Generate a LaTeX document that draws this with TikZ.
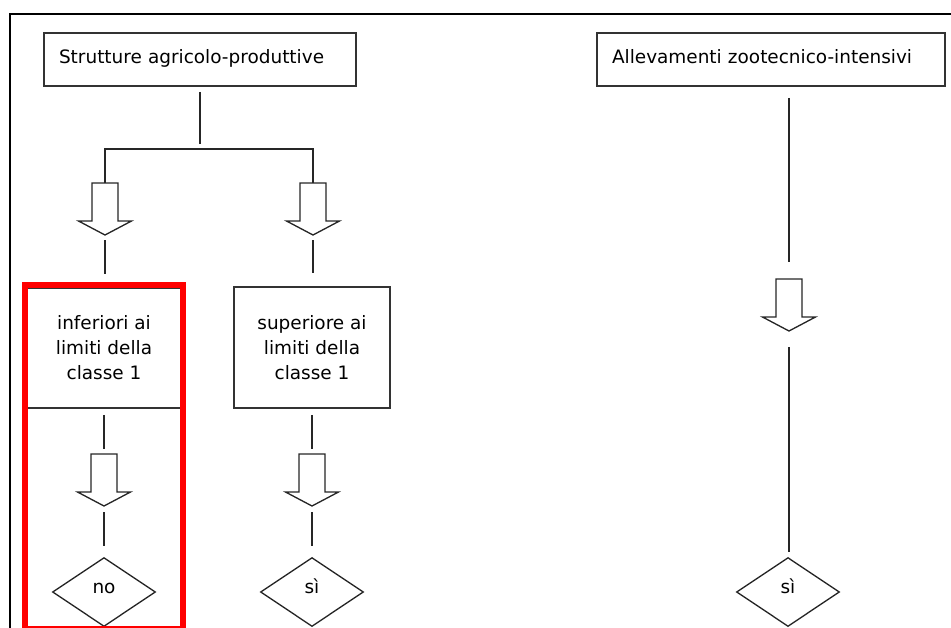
\documentclass[tikz,border=0pt]{standalone}
\usepackage{fontspec}
\setmainfont{DejaVu Sans}
\usepackage{tikz}
\usetikzlibrary{positioning,shapes.geometric}

\begin{document}
\begin{tikzpicture}[x=0.02cm,y=-0.02cm,
  font=\fontsize{10.5}{14.2}\selectfont,
  conn/.style={draw=black!85,line width=0.75pt},
  box/.style={draw=black!80,line width=1pt,rectangle,inner sep=0pt},
  choice/.style={draw=black!85,line width=0.75pt,diamond,inner sep=0pt,
    minimum width=2.06cm,minimum height=1.38cm,text height=0.2cm,text depth=0.16cm},
  blockarrow/.pic={
    \draw[black!85,line width=0.75pt,fill=white] (-13,0) -- (13,0) -- (13,38) -- (26.5,38)
      -- (0,52) -- (-26.5,38) -- (-13,38) -- cycle;
    \coordinate (-top) at (0,0);
    \coordinate (-tip) at (0,52);
  }]
\useasboundingbox (0,0) rectangle (951,627);

% page frame, cut by the page edges
\draw[line width=1.4pt] (10,640) -- (10,14) -- (960,14);

\node[box,minimum width=6.24cm,minimum height=1.06cm,text width=5.64cm,align=left,
  text height=0.27cm,text depth=0.13cm] (sap) at (200,59.5) {Strutture agricolo-produttive};
\node[box,minimum width=6.96cm,minimum height=1.06cm,text width=6.36cm,align=left,
  text height=0.27cm,text depth=0.13cm] (az) at (771,59.5) {Allevamenti zootecnico-intensivi};

\node[box,minimum width=3.1cm,minimum height=2.4cm,align=center] (inf) at (104,348)
  {inferiori ai\\limiti della\\classe 1};
\node[box,minimum width=3.12cm,minimum height=2.42cm,align=center] (sup) at (312,347.5)
  {superiore ai\\limiti della\\classe 1};

\pic (a1) at (105,183) {blockarrow};
\pic (a2) at (313,183) {blockarrow};
\pic (a3) at (104,454) {blockarrow};
\pic (a4) at (312,454) {blockarrow};
\pic (a5) at (789,279) {blockarrow};

\node[choice] (d1) at (104,592) {no};
\node[choice] (d2) at (312,592) {sì};
\node[choice] (d3) at (788,592) {sì};

\coordinate (split) at (200,149);
\draw[conn,shorten <=0.1cm,shorten >=0.1cm] (sap.south) -- (split);
\draw[conn] (a1-top) -- (a1-top |- split) -- (a2-top |- split) -- (a2-top);
\draw[conn,shorten <=0.1cm,shorten >=0.26cm] (a1-tip) -- (a1-tip |- inf.north);
\draw[conn,shorten <=0.1cm,shorten >=0.26cm] (a2-tip) -- (a2-tip |- sup.north);
\draw[conn,shorten <=0.12cm,shorten >=0.1cm] (inf.south) -- (a3-top);
\draw[conn,shorten <=0.12cm,shorten >=0.1cm] (sup.south) -- (a4-top);
\draw[conn,shorten <=0.12cm,shorten >=0.22cm] (a3-tip) -- (a3-tip |- d1.north);
\draw[conn,shorten <=0.12cm,shorten >=0.22cm] (a4-tip) -- (a4-tip |- d2.north);
\draw[conn,shorten <=0.22cm,shorten >=0.34cm] (a5-top |- az.south) -- (a5-top);
\draw[conn,shorten <=0.32cm,shorten >=0.1cm] (a5-tip) -- (a5-tip |- d3.north);

% highlight of the first branch
\draw[red,line width=0.115cm] (25.2,284.8) rectangle (182.8,629);
\end{tikzpicture}
\end{document}
